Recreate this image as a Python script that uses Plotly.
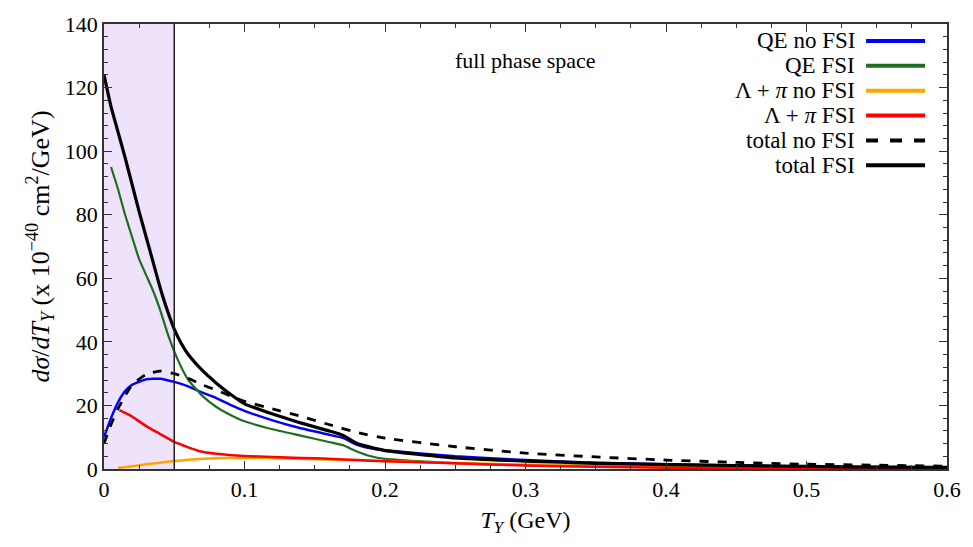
import plotly.graph_objects as go

# ---- data ----
x_total_fsi = [0, 0.005, 0.01, 0.015, 0.02, 0.025, 0.03, 0.035, 0.04, 0.045, 0.05, 0.055, 0.06, 0.07, 0.08,
               0.09, 0.1, 0.12, 0.14, 0.16, 0.17, 0.18, 0.19, 0.2, 0.25, 0.3, 0.35, 0.4, 0.45, 0.5, 0.55, 0.6]
y_total_fsi = [124, 114, 106, 98, 89.5, 81, 73, 65, 57, 50, 44, 39.5, 36, 31, 27,
               23.5, 20.5, 17.3, 14.5, 12, 10.6, 8, 6.8, 5.8, 3.5, 2.5, 1.8, 1.4, 1.1, 0.8, 0.6, 0.5]

x_total_nofsi = [0, 0.005, 0.01, 0.015, 0.02, 0.03, 0.04, 0.05, 0.06, 0.07, 0.08, 0.09, 0.1, 0.12, 0.14,
                 0.16, 0.18, 0.2, 0.25, 0.3, 0.35, 0.4, 0.45, 0.5, 0.55, 0.6]
y_total_nofsi = [8, 14, 19, 23, 26.5, 29.8, 30.8, 30, 28.5, 26.5, 24.8, 23, 21.3, 18.9, 16.6,
                 14, 11.5, 9.7, 7, 5, 3.8, 2.8, 2.1, 1.5, 1.2, 0.9]

x_qe_nofsi = [0, 0.005, 0.01, 0.015, 0.02, 0.03, 0.04, 0.05, 0.06, 0.07, 0.08, 0.09, 0.1, 0.12, 0.14,
              0.16, 0.17, 0.18, 0.19, 0.2, 0.25, 0.3, 0.35, 0.4, 0.5, 0.6]
y_qe_nofsi = [10, 16, 21, 24.5, 26.5, 28.2, 28.4, 27.4, 26, 24, 22.3, 20.2, 18.3, 15.3, 12.8,
              10.8, 9.8, 7.6, 6.5, 5.9, 4, 2.8, 2, 1.5, 0.8, 0.5]

x_qe_fsi = [0.005, 0.01, 0.015, 0.02, 0.025, 0.03, 0.035, 0.04, 0.045, 0.05, 0.055, 0.06, 0.07, 0.08,
            0.09, 0.1, 0.12, 0.14, 0.16, 0.17, 0.18, 0.19, 0.2, 0.25, 0.3, 0.4, 0.5, 0.6]
y_qe_fsi = [95, 88, 80, 73, 66, 61, 56, 50, 43, 37, 32, 28, 23, 19.5,
            17, 15, 12.5, 10.5, 8.5, 7.5, 5.5, 4, 3.2, 1.8, 1.2, 0.6, 0.3, 0.2]

x_lp_nofsi = [0.01, 0.02, 0.03, 0.04, 0.05, 0.06, 0.07, 0.08, 0.1, 0.12, 0.15, 0.2, 0.25, 0.3, 0.35,
              0.4, 0.5, 0.6]
y_lp_nofsi = [0.3, 0.9, 1.5, 2.0, 2.5, 2.9, 3.2, 3.4, 3.5, 3.4, 3.1, 2.5, 1.9, 1.4, 1.0,
              0.7, 0.35, 0.2]

x_lp_fsi = [0.011, 0.02, 0.03, 0.04, 0.05, 0.06, 0.068, 0.08, 0.1, 0.12, 0.14, 0.16, 0.18, 0.2, 0.25,
            0.3, 0.35, 0.4, 0.5, 0.6]
y_lp_fsi = [18.5, 16.5, 13.5, 11, 8.5, 6.8, 5.6, 4.8, 4.1, 3.8, 3.5, 3.2, 2.8, 2.4, 1.8,
            1.1, 0.7, 0.4, 0.2, 0.1]

series_names = ["QE no FSI", "QE FSI", "Λ + <i>π</i> no FSI", "Λ + <i>π</i> FSI", "total no FSI", "total FSI"]
x_ticks = [0, 0.1, 0.2, 0.3, 0.4, 0.5, 0.6]
x_tick_labels = ["0", "0.1", "0.2", "0.3", "0.4", "0.5", "0.6"]
y_ticks = [0, 20, 40, 60, 80, 100, 120, 140]
cut_x = 0.05

FONT = "Liberation Serif"

styles = [
    dict(color="#0000FF", width=2.5, dash="solid"),
    dict(color="#1F6E1F", width=2.2, dash="solid"),
    dict(color="#FFA500", width=2.5, dash="solid"),
    dict(color="#FF0000", width=2.5, dash="solid"),
    dict(color="#000000", width=2.8, dash="dash"),
    dict(color="#000000", width=3.2, dash="solid"),
]
xs = [x_qe_nofsi, x_qe_fsi, x_lp_nofsi, x_lp_fsi, x_total_nofsi, x_total_fsi]
ys = [y_qe_nofsi, y_qe_fsi, y_lp_nofsi, y_lp_fsi, y_total_nofsi, y_total_fsi]

fig = go.Figure()
for xv, yv, st, nm in zip(xs, ys, styles, series_names):
    fig.add_trace(go.Scatter(x=xv, y=yv, mode="lines", name=nm,
                             line=dict(shape="spline", smoothing=0.4, **st), showlegend=False))

# shaded region and cut line
fig.add_shape(type="rect", xref="x", yref="paper", x0=0, x1=cut_x, y0=0, y1=1,
              fillcolor="#EFE3FB", line=dict(width=0), layer="below")
fig.add_shape(type="line", xref="x", yref="paper", x0=cut_x, x1=cut_x, y0=0, y1=1,
              line=dict(color="#222222", width=1.5), layer="above")

# custom legend (text right-aligned, sample line to its right)
y0_leg = 0.962
dy_leg = 0.0559
for i, (nm, st) in enumerate(zip(series_names, styles)):
    yy = y0_leg - i * dy_leg
    fig.add_annotation(xref="paper", yref="paper", x=0.893, y=yy, text=nm, showarrow=False,
                       xanchor="right", yanchor="middle", font=dict(family=FONT, size=23, color="black"))
    fig.add_shape(type="line", xref="paper", yref="paper", x0=0.904, x1=0.974, y0=yy, y1=yy,
                  line=dict(color=st["color"], width=4, dash="dash" if st["dash"] == "dash" else "solid"))

fig.add_annotation(xref="x", yref="y", x=0.3, y=128.5, text="full phase space", showarrow=False,
                   font=dict(family=FONT, size=22, color="black"))

axis_common = dict(showline=True, linecolor="#333333", linewidth=1.5, mirror="ticks", ticks="inside",
                   ticklen=8, tickwidth=1.3, tickcolor="#333333", showgrid=False, zeroline=False,
                   tickfont=dict(family=FONT, size=22, color="black"))

fig.update_xaxes(range=[0, 0.6], tickvals=x_ticks, ticktext=x_tick_labels,
                 minor=dict(dtick=0.025, ticks="inside", ticklen=4, tickcolor="#333333", showgrid=False),
                 title=dict(text="<i>T<sub>Y</sub></i> (GeV)", font=dict(family=FONT, size=24, color="black"),
                            standoff=10),
                 **axis_common)
fig.update_yaxes(range=[0, 140], tickvals=y_ticks,
                 minor=dict(dtick=4, ticks="inside", ticklen=4, tickcolor="#333333", showgrid=False),
                 title=dict(text="<i>dσ</i>/<i>dT<sub>Y</sub></i> (x 10<sup>−40</sup> cm<sup>2</sup>/GeV)",
                            font=dict(family=FONT, size=26, color="black"), standoff=8),
                 **axis_common)

fig.update_layout(width=973, height=547, margin=dict(l=104, r=18, t=17, b=78),
                  paper_bgcolor="white", plot_bgcolor="white", font=dict(family=FONT))

fig.write_html("out.html")
